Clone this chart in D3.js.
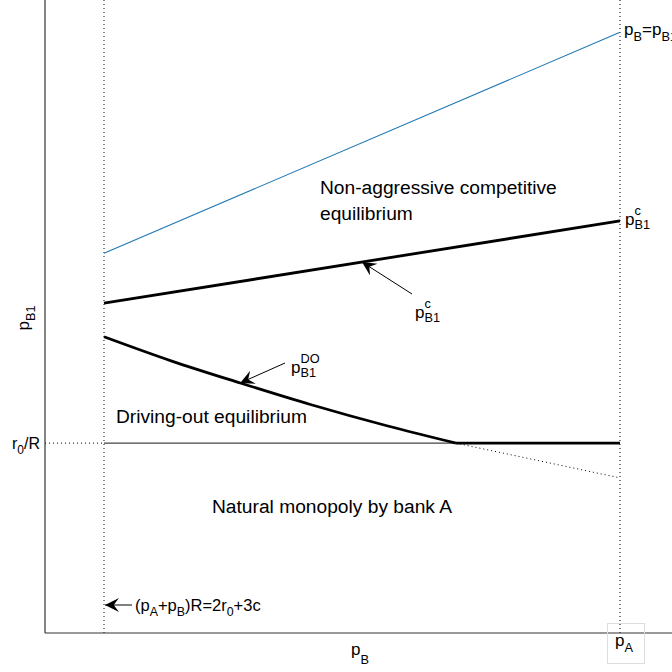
<!DOCTYPE html>
<html>
<head>
<meta charset="utf-8">
<script src="https://cdn.jsdelivr.net/npm/d3@7"></script>
<style>
  body { margin: 0; background: #fff; }
  svg { font-family: "Liberation Sans", Arial, sans-serif; }
</style>
</head>
<body>
<svg id="chart" width="672" height="672"></svg>
<script>
// values in chart units (x: 0 = left dotted bound, 10 = p_A ; y: 0 = axis)
const xBounds = [0, 10];
const rLevel = 3.0;
const blueLine = [[0, 6.0], [10, 9.49]];
const pcLine = [[0, 5.21], [10, 6.51]];
const pdoCurve = [[0, 4.68], [1.3, 4.30], [2.64, 3.95], [4, 3.61], [5.5, 3.27], [6.82, 3.0]];
const rLine = [[6.82, 3.0], [10, 3.0]];
const dotExtension = [[6.82, 3.0], [10, 2.45]];

const svg = d3.select("#chart");
const x = d3.scaleLinear().domain([0, 10]).range([104, 620]);
const y = d3.scaleLinear().domain([0, 10]).range([633, 0]);
const axisLeftX = 45;

const line = d3.line().x(d => x(d[0])).y(d => y(d[1]));

// arrow marker, tip at the line end
const defs = svg.append("defs");
defs.append("marker")
  .attr("id", "arr")
  .attr("viewBox", "0 0 10 10")
  .attr("refX", 10).attr("refY", 5)
  .attr("markerWidth", 17).attr("markerHeight", 14)
  .attr("markerUnits", "userSpaceOnUse")
  .attr("orient", "auto")
  .append("path")
  .attr("d", "M10,5 L0,0 L3.8,5 L0,10 Z")
  .attr("fill", "#000");

// dotted verticals
xBounds.forEach(v => {
  svg.append("line")
    .attr("x1", x(v)).attr("x2", x(v))
    .attr("y1", 0).attr("y2", y(0))
    .attr("stroke", "#000").attr("stroke-width", 1)
    .attr("stroke-dasharray", "1,3");
});

// dotted r0/R from axis to left bound
svg.append("line")
  .attr("x1", axisLeftX).attr("x2", x(0))
  .attr("y1", y(rLevel)).attr("y2", y(rLevel))
  .attr("stroke", "#000").attr("stroke-dasharray", "1,3");

// thin r0/R line
svg.append("line")
  .attr("x1", x(0)).attr("x2", x(10))
  .attr("y1", y(rLevel)).attr("y2", y(rLevel))
  .attr("stroke", "#444").attr("stroke-width", 1.2);

// dotted extension
svg.append("path").attr("d", line(dotExtension))
  .attr("fill", "none").attr("stroke", "#000").attr("stroke-dasharray", "1,3");

svg.append("path").attr("d", line(blueLine))
  .attr("fill", "none").attr("stroke", "#1f77b4").attr("stroke-width", 1.1);

svg.append("path").attr("d", line(pcLine))
  .attr("fill", "none").attr("stroke", "#000").attr("stroke-width", 2.8);

svg.append("path").attr("d", d3.line().x(d => x(d[0])).y(d => y(d[1])).curve(d3.curveMonotoneX)(pdoCurve))
  .attr("fill", "none").attr("stroke", "#000").attr("stroke-width", 2.8);

svg.append("path").attr("d", line(rLine))
  .attr("fill", "none").attr("stroke", "#000").attr("stroke-width", 2.8);

// axes frame
svg.append("line").attr("x1", axisLeftX).attr("x2", axisLeftX).attr("y1", 0).attr("y2", y(0))
  .attr("stroke", "#333").attr("stroke-width", 1.2);
svg.append("line").attr("x1", axisLeftX).attr("x2", 672).attr("y1", y(0)).attr("y2", y(0))
  .attr("stroke", "#333").attr("stroke-width", 1.2);

// arrows
function arrow(x1, y1, x2, y2) {
  svg.append("line")
    .attr("x1", x1).attr("y1", y1).attr("x2", x2).attr("y2", y2)
    .attr("stroke", "#000").attr("stroke-width", 1)
    .attr("marker-end", "url(#arr)");
}
const pcAt = v => pcLine[0][1] + (pcLine[1][1] - pcLine[0][1]) * v / 10;
arrow(412, 294, x(5.0), y(pcAt(5.0)));
arrow(285, 363, x(2.64), y(3.95));
arrow(132, 605, x(0) + 1, 605);

// math label: base, then stacked sup / sub
function mathLabel(px, py, base, sup, sub, size) {
  const s = size || 17;
  const t = svg.append("text").attr("x", px).attr("y", py).attr("font-size", s).text(base);
  const w = t.node().getComputedTextLength();
  if (sup) svg.append("text").attr("x", px + w).attr("y", py - 10).attr("font-size", s * 0.75).text(sup);
  if (sub) svg.append("text").attr("x", px + w).attr("y", py + 4).attr("font-size", s * 0.75).text(sub);
}

// inline label with tspans: parts = [text, isSub]
function inlineLabel(px, py, parts, size, shift) {
  const s = size || 17;
  const sh = shift || 6;
  const t = svg.append("text").attr("x", px).attr("y", py).attr("font-size", s);
  let cur = 0;
  parts.forEach(p => {
    const target = p[1] === 1 ? sh : 0;
    t.append("tspan")
      .attr("dy", target - cur)
      .attr("font-size", p[1] === 1 ? s * 0.75 : s)
      .text(p[0]);
    cur = target;
  });
  return t;
}

inlineLabel(624, 35, [["p", 0], ["B", 1], ["=p", 0], ["B1", 1]]);
mathLabel(625, 225, "p", "c", "B1");
mathLabel(415, 318, "p", "c", "B1");
mathLabel(291, 373, "p", "DO", "B1");

const regionSize = 19.2;
svg.append("text").attr("x", 320).attr("y", 194).attr("font-size", regionSize).text("Non-aggressive competitive");
svg.append("text").attr("x", 320).attr("y", 220).attr("font-size", regionSize).text("equilibrium");
svg.append("text").attr("x", 116).attr("y", 423).attr("font-size", regionSize).text("Driving-out equilibrium");
svg.append("text").attr("x", 212).attr("y", 513).attr("font-size", regionSize).text("Natural monopoly by bank A");

inlineLabel(12, 449, [["r", 0], ["0", 1], ["/R", 0]], 16, 5);
inlineLabel(135, 611, [["(p", 0], ["A", 1], ["+p", 0], ["B", 1], [")R=2r", 0], ["0", 1], ["+3c", 0]], 16.5, 5);

// axis labels
inlineLabel(351, 655, [["p", 0], ["B", 1]], 17, 9);
const yl = svg.append("g").attr("transform", "translate(29,318) rotate(-90)");
const ylt = yl.append("text").attr("font-size", 17).attr("text-anchor", "middle");
ylt.append("tspan").text("p");
ylt.append("tspan").attr("dy", 6).attr("font-size", 12.75).text("B1");

// p_A tick label box
svg.append("rect").attr("x", 607.5).attr("y", 623.5).attr("width", 37).attr("height", 40)
  .attr("fill", "none").attr("stroke", "#ddd").attr("stroke-width", 1);
inlineLabel(615, 646, [["p", 0], ["A", 1]], 17, 6);
</script>
</body>
</html>
